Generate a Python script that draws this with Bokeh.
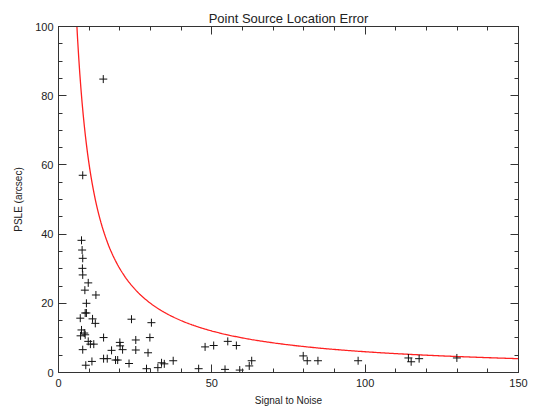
import numpy as np
from bokeh.plotting import figure
from bokeh.models import (LinearAxis, SingleIntervalTicker, Range1d,
                          CustomJSTickFormatter, ColumnDataSource)
from bokeh.embed import file_html
from bokeh.resources import INLINE

# ---- data ----
snr = [7.9, 14.6, 7.5, 7.7, 7.9, 7.8, 7.9, 9.7, 8.6, 12.2, 9.1, 8.7, 9.1, 7.1,
       11.1, 12.0, 23.8, 30.3, 7.5, 8.4, 7.2, 8.7, 14.7, 29.8, 9.7, 11.5, 10.4,
       20.0, 25.2, 20.1, 20.9, 7.9, 17.3, 25.2, 29.2, 14.7, 15.9, 18.6, 19.3,
       10.9, 8.9, 23.0, 28.7, 32.4, 33.6, 34.5, 37.4, 47.8, 50.6, 55.2, 58.0,
       45.7, 54.3, 59.1, 62.2, 63.0, 79.8, 81.1, 84.6, 97.7, 114.1, 115.0,
       117.6, 129.9]
psle = [57.0, 84.8, 38.2, 35.4, 33.0, 30.1, 28.2, 25.9, 23.8, 22.4, 20.0, 17.2,
        17.2, 15.7, 15.5, 14.2, 15.4, 14.4, 12.3, 11.4, 10.6, 10.9, 10.1, 10.1,
        9.0, 8.2, 8.2, 8.7, 9.4, 7.7, 6.6, 6.6, 6.4, 6.5, 5.7, 4.0, 4.0, 3.6,
        3.6, 3.2, 2.1, 2.6, 1.1, 1.4, 2.8, 2.5, 3.4, 7.4, 7.8, 9.0, 7.8, 1.1,
        0.9, 0.7, 1.9, 3.4, 4.8, 3.4, 3.4, 3.4, 4.2, 3.1, 4.0, 4.2]

# model error curve: PSLE = K / SNR
K = 600.0
curve_snr = np.linspace(5.5, 150, 400)
curve_psle = K / curve_snr

x_ticks_interval = 50
y_ticks_interval = 20

FONT = "Liberation Sans"

p = figure(width=536, height=408, output_backend="svg", toolbar_location=None,
           x_range=Range1d(0, 150), y_range=Range1d(0, 100),
           x_axis_type=None, y_axis_type=None,
           min_border_left=58, min_border_right=18,
           min_border_top=26, min_border_bottom=34,
           title="Point Source Location Error")
p.title.align = "center"
p.title.text_font = FONT
p.title.text_font_size = "13px"
p.title.text_font_style = "normal"
p.title.text_color = "#222222"
p.title.standoff = 2
p.grid.visible = False
p.outline_line_color = "black"
p.background_fill_color = "white"
p.border_fill_color = "white"


def style(ax, labels=True):
    ax.major_tick_in = 8
    ax.major_tick_out = 0
    ax.minor_tick_in = 4
    ax.minor_tick_out = 0
    ax.axis_line_color = "#333333"
    ax.major_tick_line_color = "#333333"
    ax.minor_tick_line_color = "#333333"
    ax.major_label_text_font = FONT
    ax.major_label_text_font_size = "11px"
    ax.major_label_text_color = "#222222"
    ax.axis_label_text_font = FONT
    ax.axis_label_text_font_size = "10px"
    ax.axis_label_text_font_style = "normal"
    ax.axis_label_text_color = "#222222"
    if not labels:
        ax.formatter = CustomJSTickFormatter(code="return ''")
        ax.major_label_standoff = 0


xb = LinearAxis(ticker=SingleIntervalTicker(interval=x_ticks_interval, num_minor_ticks=5),
                axis_label="Signal to Noise")
style(xb)
xb.major_label_standoff = 6
xb.axis_label_standoff = 5
p.add_layout(xb, "below")

xt = LinearAxis(ticker=SingleIntervalTicker(interval=x_ticks_interval, num_minor_ticks=5))
style(xt, labels=False)
p.add_layout(xt, "above")

yl = LinearAxis(ticker=SingleIntervalTicker(interval=y_ticks_interval, num_minor_ticks=4),
                axis_label="PSLE (arcsec)")
style(yl)
yl.major_label_standoff = 5
yl.axis_label_standoff = 8
p.add_layout(yl, "left")

yr = LinearAxis(ticker=SingleIntervalTicker(interval=y_ticks_interval, num_minor_ticks=4))
style(yr, labels=False)
p.add_layout(yr, "right")

p.line(curve_snr, curve_psle, line_color="#ff2020", line_width=1.3)

src = ColumnDataSource(data=dict(x=snr, y=psle))
p.scatter("x", "y", source=src, marker="cross", size=8, line_color="#111111",
          line_width=1)

open("out.html", "w").write(file_html(p, INLINE))
